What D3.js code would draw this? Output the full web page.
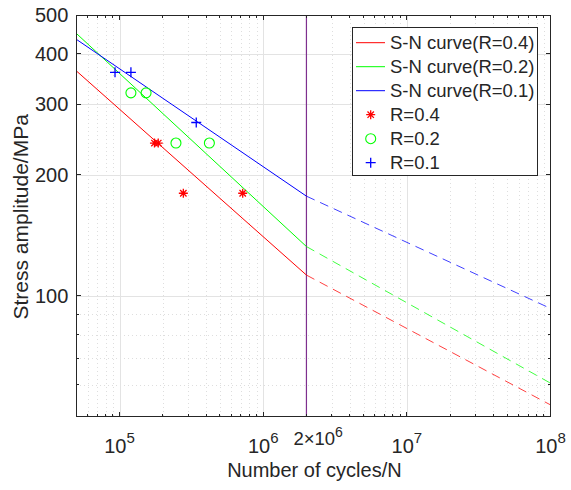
<!DOCTYPE html>
<html>
<head>
<meta charset="utf-8">
<script src="https://cdn.jsdelivr.net/npm/d3@7"></script>
<style>
  body { margin: 0; background: #fff; }
  text { font-family: "Liberation Sans", Arial, Helvetica, sans-serif; fill: #262626; }
</style>
</head>
<body>
<div id="canvas"></div>
<script>
// Canvas size and plot box.
const WIDTH = 571;
const HEIGHT = 490;
const LEFT = 76.3;
const RIGHT = 550.5;
const TOP = 15;
const BOTTOM = 416.7;

// S-N curves: knee at 2e6 cycles, dashed beyond it.
const cycles = [5e4, 2e6, 1e8];
const curveR04 = [363, 112.6, 53.5];
const curveR02 = [450, 132.6, 60.6];
const curveR01 = [435, 177, 93];

// Test results.
const testCyclesR04 = [1.75e5, 1.86e5, 2.78e5, 7.2e5];
const testStressR04 = [240, 240, 180, 180];
const testCyclesR02 = [1.2e5, 1.53e5, 2.47e5, 4.22e5];
const testStressR02 = [320, 320, 240, 240];
const testCyclesR01 = [9.3e4, 1.2e5, 3.42e5];
const testStressR01 = [360, 360, 270];

// Ticks.
const xMajor = [1e5, 1e6, 1e7, 1e8];
const xExponents = ["5", "6", "7", "8"];
const xMinor = [6e4, 7e4, 8e4, 9e4, 2e5, 3e5, 4e5, 5e5, 6e5, 7e5, 8e5, 9e5,
                2e6, 3e6, 4e6, 5e6, 6e6, 7e6, 8e6, 9e6, 2e7, 3e7, 4e7, 5e7, 6e7, 7e7, 8e7, 9e7];
const yMajor = [100, 200, 300, 400, 500];
const yMinor = [60, 70, 80, 90];
const kneeCycles = 2e6;

const series = [
    { name: "S-N curve(R=0.4)", color: "#ff0000", values: curveR04 },
    { name: "S-N curve(R=0.2)", color: "#00ff00", values: curveR02 },
    { name: "S-N curve(R=0.1)", color: "#0000ff", values: curveR01 }
];

const STAR = "M-4.5,0H4.5M0,-4.5V4.5M-3.2,-3.2L3.2,3.2M-3.2,3.2L3.2,-3.2";
const PLUS = "M-5,0H5M0,-5V5";

const tests = [
    { name: "R=0.4", color: "#ff0000", shape: "star", n: testCyclesR04, s: testStressR04 },
    { name: "R=0.2", color: "#00ff00", shape: "circle", n: testCyclesR02, s: testStressR02 },
    { name: "R=0.1", color: "#0000ff", shape: "plus", n: testCyclesR01, s: testStressR01 }
];

const svg = d3.select("#canvas")
                .append("svg")
                .attr("width", WIDTH)
                .attr("height", HEIGHT);

const xScale = d3.scaleLog().domain([5e4, 1e8]).range([LEFT, RIGHT]);
const yScale = d3.scaleLog().domain([50, 500]).range([BOTTOM, TOP]);

// Grid lines.
const grid = svg.append("g").attr("shape-rendering", "crispEdges");
grid.selectAll(".xminor").data(xMinor).enter().append("line")
    .attr("x1", d => Math.round(xScale(d)) + 0.5).attr("x2", d => Math.round(xScale(d)) + 0.5)
    .attr("y1", TOP).attr("y2", BOTTOM)
    .attr("stroke", "#dedede").attr("stroke-dasharray", "1,3");
grid.selectAll(".yminor").data(yMinor).enter().append("line")
    .attr("x1", LEFT).attr("x2", RIGHT)
    .attr("y1", d => Math.round(yScale(d)) + 0.5).attr("y2", d => Math.round(yScale(d)) + 0.5)
    .attr("stroke", "#dedede").attr("stroke-dasharray", "1,3");
grid.selectAll(".xmajor").data(xMajor.slice(0, 3)).enter().append("line")
    .attr("x1", d => Math.round(xScale(d)) + 0.5).attr("x2", d => Math.round(xScale(d)) + 0.5)
    .attr("y1", TOP).attr("y2", BOTTOM)
    .attr("stroke", "#e3e3e3");
grid.selectAll(".ymajor").data(yMajor.slice(0, 4)).enter().append("line")
    .attr("x1", LEFT).attr("x2", RIGHT)
    .attr("y1", d => Math.round(yScale(d)) + 0.5).attr("y2", d => Math.round(yScale(d)) + 0.5)
    .attr("stroke", "#e3e3e3");

// Knee line at 2e6 cycles.
svg.append("line")
    .attr("x1", xScale(kneeCycles)).attr("x2", xScale(kneeCycles))
    .attr("y1", TOP).attr("y2", BOTTOM)
    .attr("stroke", "#7e2f8e").attr("stroke-width", 1.2);

// Curves: solid up to the knee, dashed after.
const line = d3.line().x(d => xScale(d[0])).y(d => yScale(d[1]));
const plot = svg.append("g");
series.forEach(s => {
    const pts = cycles.map((c, i) => [c, s.values[i]]);
    plot.append("path").attr("d", line(pts.slice(0, 2)))
        .attr("fill", "none").attr("stroke", s.color).attr("stroke-width", 1);
    plot.append("path").attr("d", line(pts.slice(1)))
        .attr("fill", "none").attr("stroke", s.color).attr("stroke-width", 1)
        .attr("stroke-dasharray", "9,6").attr("stroke-opacity", 0.75);
});

// Markers.
function drawMarker(g, shape, color) {
    if (shape === "circle") {
        g.append("circle").attr("r", 5).attr("fill", "none").attr("stroke", color).attr("stroke-width", 1.1);
    } else {
        g.append("path").attr("d", shape === "star" ? STAR : PLUS)
            .attr("fill", "none").attr("stroke", color).attr("stroke-width", 1.3);
    }
}
tests.forEach(t => {
    t.n.forEach((n, i) => {
        const g = plot.append("g").attr("transform", `translate(${xScale(n)},${yScale(t.s[i])})`);
        drawMarker(g, t.shape, t.color);
    });
});

// Axes box and inward ticks.
const axes = svg.append("g").attr("shape-rendering", "crispEdges").attr("stroke", "#262626");
axes.append("rect").attr("x", LEFT).attr("y", TOP)
    .attr("width", RIGHT - LEFT).attr("height", BOTTOM - TOP).attr("fill", "none");
[[xMajor, 5], [xMinor, 3]].forEach(([vals, len]) => {
    vals.forEach(v => {
        const x = xScale(v);
        axes.append("line").attr("x1", x).attr("x2", x).attr("y1", BOTTOM).attr("y2", BOTTOM - len);
        axes.append("line").attr("x1", x).attr("x2", x).attr("y1", TOP).attr("y2", TOP + len);
    });
});
[[yMajor, 5], [yMinor, 3]].forEach(([vals, len]) => {
    vals.forEach(v => {
        const y = yScale(v);
        axes.append("line").attr("x1", LEFT).attr("x2", LEFT + len).attr("y1", y).attr("y2", y);
        axes.append("line").attr("x1", RIGHT).attr("x2", RIGHT - len).attr("y1", y).attr("y2", y);
    });
});

// Tick labels.
svg.selectAll(".ylab").data(yMajor).enter().append("text")
    .attr("x", LEFT - 8).attr("y", d => yScale(d)).attr("dy", "0.35em")
    .attr("text-anchor", "end").attr("font-size", 20).text(d => d);

xMajor.forEach((v, i) => {
    const t = svg.append("text").attr("x", xScale(v)).attr("y", 453)
        .attr("text-anchor", "middle").attr("font-size", 20);
    t.append("tspan").text("10");
    t.append("tspan").attr("dy", -10).attr("font-size", 15).text(xExponents[i]);
});
const knee = svg.append("text").attr("x", xScale(kneeCycles) - 13).attr("y", 445)
    .attr("text-anchor", "start").attr("font-size", 18.5).attr("fill", "#000");
knee.append("tspan").text("2×10");
knee.append("tspan").attr("dy", -8).attr("font-size", 14).text("6");

// Axis titles.
svg.append("text").attr("x", (LEFT + RIGHT) / 2 + 1).attr("y", 477)
    .attr("text-anchor", "middle").attr("font-size", 20).text("Number of cycles/N");
svg.append("text").attr("transform", `translate(28,${(TOP + BOTTOM) / 2 + 1}) rotate(-90)`)
    .attr("text-anchor", "middle").attr("font-size", 21).text("Stress amplitude/MPa");

// Legend.
const legend = svg.append("g").attr("transform", "translate(352,27.3)");
legend.append("rect").attr("width", 185).attr("height", 147.7)
    .attr("fill", "#fff").attr("stroke", "#262626").attr("shape-rendering", "crispEdges");
const rows = series.map(s => ({ name: s.name, color: s.color, shape: "line" }))
    .concat(tests.map(t => ({ name: t.name, color: t.color, shape: t.shape })));
rows.forEach((r, i) => {
    const y = 15.4 + i * 24;
    const row = legend.append("g").attr("transform", `translate(0,${y})`);
    if (r.shape === "line") {
        row.append("line").attr("x1", 4).attr("x2", 33).attr("stroke", r.color);
    } else {
        drawMarker(row.append("g").attr("transform", "translate(18.7,0)"), r.shape, r.color);
    }
    row.append("text").attr("x", 38).attr("dy", "0.36em").attr("font-size", 18.5).text(r.name);
});
</script>
</body>
</html>
